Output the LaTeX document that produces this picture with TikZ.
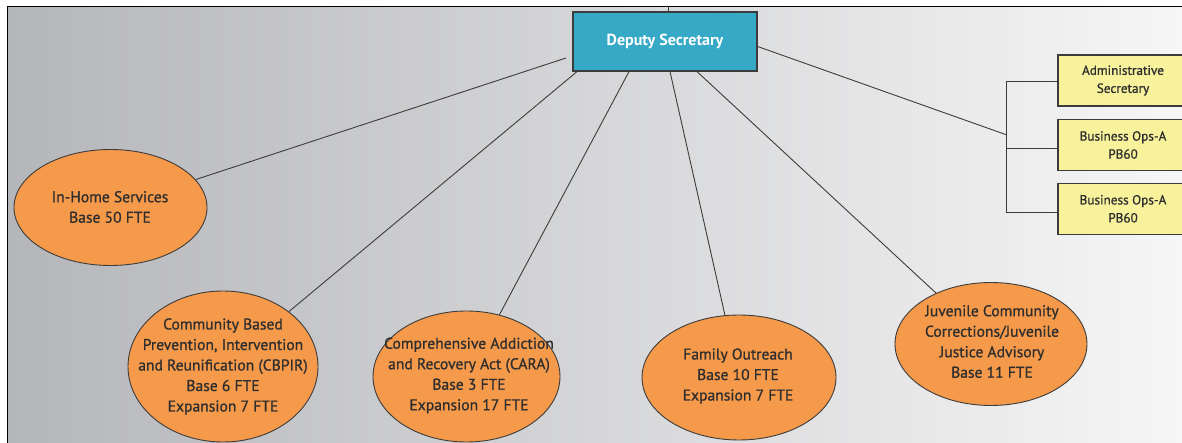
\documentclass[tikz,border=0pt]{standalone}
\usepackage{fontspec}
\setmainfont{PT Sans}
\newfontfamily\medf[BoldFont={PT Sans}, BoldFeatures={FakeBold=0.9}]{PT Sans}
\usetikzlibrary{shapes.geometric}
\definecolor{bgL}{HTML}{B5B6BA}
\definecolor{bgM}{HTML}{CECFD1}
\definecolor{bgR}{HTML}{F6F6F6}
\definecolor{depblue}{HTML}{36A9C6}
\definecolor{orng}{HTML}{F5994B}
\definecolor{yel}{HTML}{F8F29C}
\definecolor{bd}{HTML}{3C3C3C}
\definecolor{tc}{HTML}{2E2E2E}
\begin{document}
\begin{tikzpicture}[x=1pt,y=-1pt,
  conn/.style={draw=bd, line width=0.9pt},
  depbox/.style={draw=bd, fill=depblue, line width=1.2pt, minimum width=184, minimum height=59, inner sep=0, text=white, font=\bfseries\fontsize{16}{19}\selectfont},
  ell/.style={ellipse, draw=bd, fill=orng, line width=0.9pt, inner sep=0},
  etxt/.style={text=tc, align=center, inner sep=0, font=\medf\bfseries\fontsize{15.6}{20.5}\selectfont},
  ybox/.style={draw=bd, fill=yel, line width=1.1pt, minimum width=130, minimum height=51, inner sep=0, text=tc, align=center, font=\medf\bfseries\fontsize{13.2}{18}\selectfont}]
\useasboundingbox (0,0) rectangle (1182,443);
\clip (0,0) rectangle (1182,443);
\shade[left color=bgL, middle color=bgM, right color=bgR] (7,6.5) rectangle (1182,443);
\draw[line width=1.5pt, black] (7.5,443) -- (7.5,6.5) -- (1182,6.5);

% Deputy Secretary
\node[depbox] (dep) at (665,41.5) {Deputy Secretary};
\coordinate (topc) at (668,6.5);
\draw[conn] ([xshift=3pt]dep.north) -- (topc);

% Ellipses
\node[ell, minimum width=193, minimum height=116] (ih) at (110.5,207.5) {};
\node[etxt] (iht) at (110,207) {In-Home Services\\Base 50 FTE};

\node[ell, minimum width=190, minimum height=151] (cb) at (223,366.5) {};
\node[etxt] (cbt) at (223,366.5) {Community Based\\Prevention, Intervention\\and Reunification (CBPIR)\\Base 6 FTE\\Expansion 7 FTE};

\node[ell, minimum width=187, minimum height=131] (ca) at (466.5,376.5) {};
\node[etxt] (cat) at (469,375.5) {Comprehensive Addiction\\and Recovery Act (CARA)\\Base 3 FTE\\Expansion 17 FTE};

\node[ell, minimum width=194, minimum height=125] (fo) at (739,377.5) {};
\node[etxt] (fot) at (738,376) {Family Outreach\\Base 10 FTE\\Expansion 7 FTE};

\node[ell, minimum width=192, minimum height=123] (jv) at (991,344) {};
\node[etxt] (jvt) at (992,341.5) {Juvenile Community\\Corrections/Juvenile\\Justice Advisory\\Base 11 FTE};

% connectors to ellipses
\coordinate (s1) at (566,58);
\draw[conn] (s1) -- (ih);
\draw[conn] ([xshift=-88pt]dep.south) -- (cb);
\draw[conn] ([xshift=-36pt]dep.south) -- (ca);
\draw[conn] ([xshift=5pt]dep.south) -- (fo);
\draw[conn] ([xshift=32pt]dep.south) -- (jv);

% Yellow boxes
\node[ybox] (adm) at (1123,80.5) {Administrative\\Secretary};
\node[ybox] (b1) at (1123,145) {Business Ops-A\\PB60};
\node[ybox] (b2) at (1123,208.8) {Business Ops-A\\PB60};

\coordinate (br) at (1007,135);
\draw[conn] ([yshift=-5pt]dep.east) -- (br);
\draw[conn] ([yshift=-1pt]adm.west) -- ++(-51,0) |- ([yshift=-3.5pt]b2.west);
\draw[conn] ([yshift=-3pt]b1.west) -- ++(-51,0);
\end{tikzpicture}
\end{document}
